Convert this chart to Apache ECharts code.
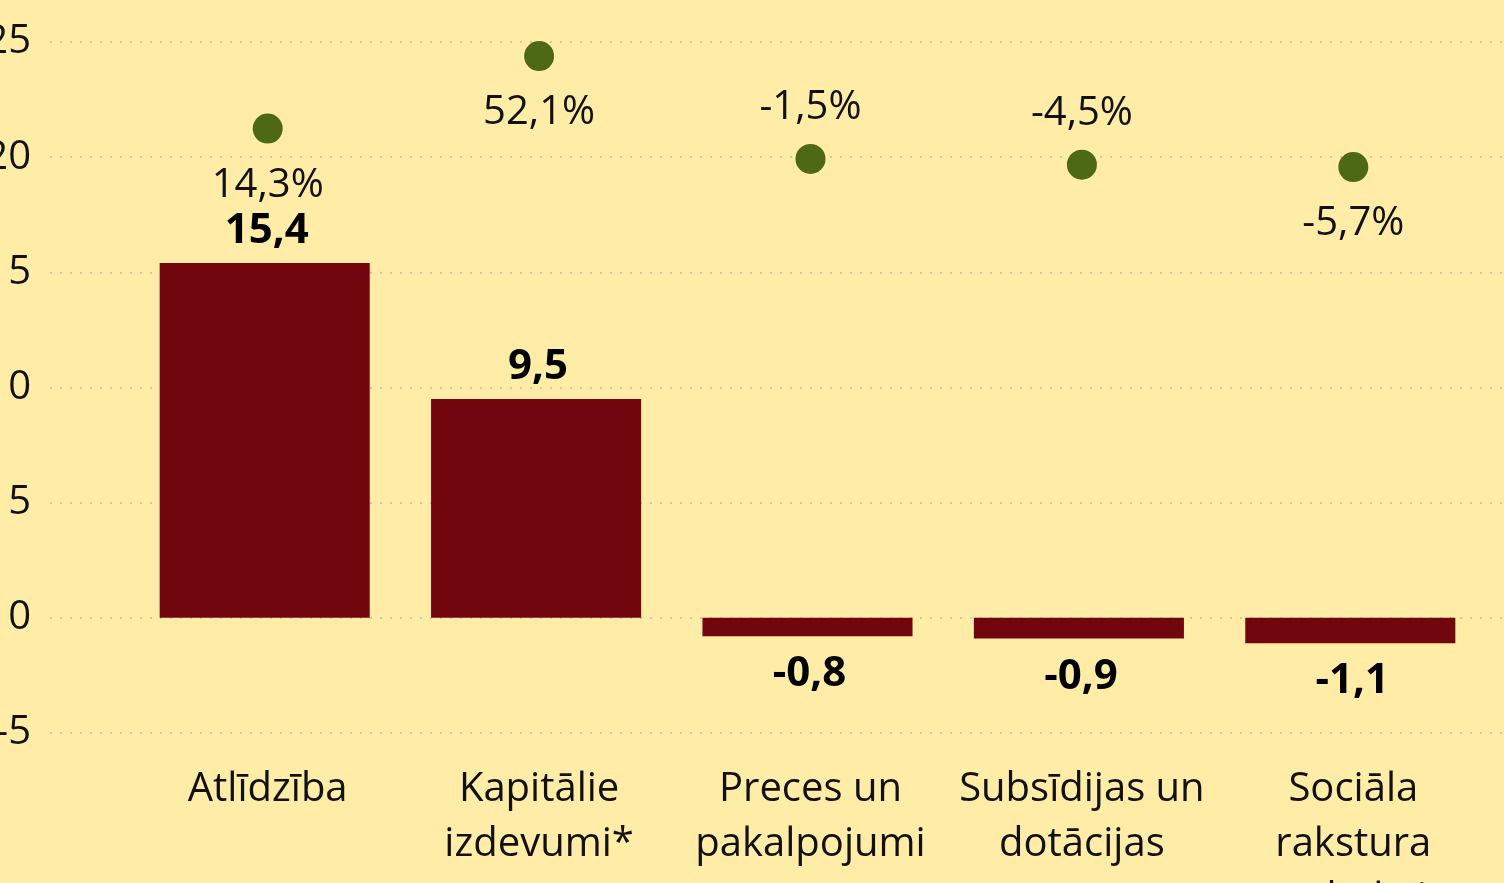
<!DOCTYPE html>
<html>
<head>
<meta charset="utf-8">
<script src="https://cdn.jsdelivr.net/npm/echarts@6/dist/echarts.min.js"></script>
<style>
html,body{margin:0;padding:0;background:#FFECA7;overflow:hidden}
#main{width:1504px;height:883px}
</style>
</head>
<body>
<div id="main"></div>
<script>
// izmaiņas, milj. eiro un %
var categories = ['Atlīdzība', 'Kapitālie\nizdevumi*', 'Preces un\npakalpojumi', 'Subsīdijas un\ndotācijas', 'Sociāla\nrakstura\npabalsti'];
var changeValues = [15.4, 9.5, -0.8, -0.9, -1.1];
var pctValues = [14.3, 52.1, -1.5, -4.5, -5.7];
var pctLabelPos = ['bottom', 'bottom', 'top', 'top', 'bottom'];
var yTicks = [-5, 0, 5, 10, 15, 20, 25];

function fmt(v) {
	return v.toFixed(1).replace('.', ',');
}

var FONT = '"Open Sans", "Noto Sans", sans-serif';

var myChart = echarts.init(document.getElementById('main'));
var option = {
	backgroundColor: '#FFECA7',
	textStyle: { fontFamily: FONT },
	grid: [
		// režģa līnijas un ass uzraksti
		{ left: 50, right: 0, top: 42, bottom: 150, outerBoundsMode: 'none', containLabel: false },
		// stabiņi
		{ left: 129, right: 18, top: 42, bottom: 150, outerBoundsMode: 'none', containLabel: false },
		// punkti un kategoriju uzraksti
		{ left: 132, right: 15, top: 42, bottom: 150, outerBoundsMode: 'none', containLabel: false }
	],
	xAxis: [{
		gridIndex: 0,
		type: 'value',
		min: 0,
		max: 1,
		show: false
	}, {
		gridIndex: 1,
		type: 'category',
		data: categories,
		show: false
	}, {
		gridIndex: 2,
		type: 'category',
		data: categories,
		axisLine: { show: false },
		axisTick: { show: false },
		axisLabel: {
			margin: 29,
			fontSize: 40,
			lineHeight: 55,
			color: '#111',
			fontFamily: FONT,
			interval: 0
		}
	}],
	yAxis: [{
		gridIndex: 0,
		type: 'value',
		min: yTicks[0],
		max: yTicks[yTicks.length - 1],
		interval: yTicks[1] - yTicks[0],
		axisLine: { show: false },
		axisTick: { show: false },
		axisLabel: {
			margin: 19,
			fontSize: 40,
			color: '#111',
			fontFamily: FONT
		},
		splitLine: {
			lineStyle: {
				type: [2, 8],
				width: 2,
				color: '#CFC7A6'
			}
		}
	}, {
		gridIndex: 1,
		type: 'value',
		min: yTicks[0],
		max: yTicks[yTicks.length - 1],
		show: false
	}, {
		// slēpta ass procentiem
		gridIndex: 2,
		type: 'value',
		min: -300.4,
		max: 59.4,
		show: false
	}],
	series: [{
		type: 'bar',
		xAxisIndex: 1,
		yAxisIndex: 1,
		barCategoryGap: '22.6%',
		itemStyle: { color: '#72060F' },
		label: {
			show: true,
			distance: 14,
			offset: [2, 3],
			fontSize: 42,
			fontWeight: 'bold',
			color: '#000',
			fontFamily: FONT,
			formatter: function (p) { return fmt(p.value); }
		},
		data: changeValues.map(function (v) {
			return { value: v, label: { position: v >= 0 ? 'top' : 'bottom' } };
		})
	}, {
		type: 'scatter',
		xAxisIndex: 2,
		yAxisIndex: 2,
		symbol: 'circle',
		symbolSize: 30,
		itemStyle: { color: '#4E6915', opacity: 1 },
		label: {
			show: true,
			distance: 19,
			offset: [0, 3],
			fontSize: 40,
			color: '#111',
			fontFamily: FONT,
			formatter: function (p) { return fmt(p.value) + '%'; }
		},
		data: pctValues.map(function (v, i) {
			return { value: v, label: { position: pctLabelPos[i] } };
		})
	}]
};

myChart.setOption(option);
window.addEventListener('resize', function () {
	myChart.resize();
});
</script>
</body>
</html>
